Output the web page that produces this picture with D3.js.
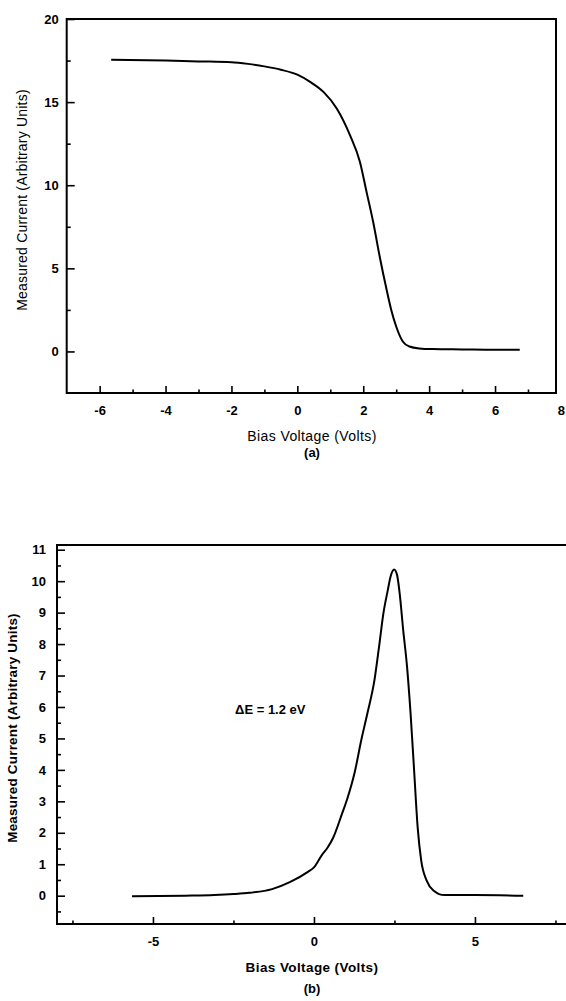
<!DOCTYPE html>
<html>
<head>
<meta charset="utf-8">
<script src="https://cdn.jsdelivr.net/npm/d3@7"></script>
<style>
  html, body { margin: 0; padding: 0; background: #fff; }
  svg { display: block; }
  text { font-family: "Liberation Sans", Arial, Helvetica, sans-serif; fill: #000; }
</style>
</head>
<body>
<svg id="chart" width="566" height="1001"></svg>
<script>
// ---------- Data: panel (a) ----------
const biasA = [-5.65, -4, -3, -2, -1.5, -1, -0.5, 0, 0.4, 0.8, 1.2, 1.6, 1.9, 2.1, 2.3, 2.5, 2.7, 2.85, 3.0, 3.2, 3.4, 3.7, 4.1, 5, 6, 6.75];
const currentA = [17.55, 17.5, 17.45, 17.4, 17.3, 17.15, 16.95, 16.65, 16.2, 15.6, 14.6, 13.0, 11.4, 9.6, 7.8, 5.7, 3.8, 2.5, 1.5, 0.6, 0.3, 0.18, 0.14, 0.12, 0.1, 0.1];
const xMajorA = [-6, -4, -2, 0, 2, 4, 6, 8];
const xMinorA = [-5, -3, -1, 1, 3, 5, 7];
const yMajorA = [0, 5, 10, 15, 20];
const yMinorA = [2.5, 7.5, 12.5, 17.5];

// ---------- Data: panel (b) ----------
const biasB = [-5.65, -4, -3.1, -2.5, -2.0, -1.3, -0.75, -0.2, 0.0, 0.25, 0.43, 0.6, 0.87, 1.04, 1.26, 1.47, 1.66, 1.88, 2.02, 2.16, 2.29, 2.38, 2.49, 2.58, 2.66, 2.77, 2.89, 3.0, 3.11, 3.22, 3.33, 3.5, 3.72, 4.05, 5, 6.5];
const currentB = [-0.02, 0.0, 0.02, 0.05, 0.09, 0.21, 0.43, 0.75, 0.9, 1.3, 1.54, 1.85, 2.6, 3.1, 3.9, 4.95, 5.8, 6.86, 7.9, 9.0, 9.7, 10.15, 10.37, 10.2, 9.63, 8.46, 7.29, 5.8, 3.99, 2.18, 1.12, 0.48, 0.16, 0.02, 0.02, 0.0];
const xMajorB = [-5, 0, 5];
const xMinorB = [-7.5, -2.5, 2.5, 7.5];
const yMajorB = [0, 1, 2, 3, 4, 5, 6, 7, 8, 9, 10, 11];
const yMinorB = [-0.5, 0.5, 1.5, 2.5, 3.5, 4.5, 5.5, 6.5, 7.5, 8.5, 9.5, 10.5];

const annotationB = "\u0394E = 1.2 eV";

const svg = d3.select("#chart");
const fmt = d => String(d);   // plain hyphen-minus like the original

function drawPanel(cfg) {
  const g = svg.append("g");
  const x = d3.scaleLinear().domain(cfg.xDomain).range(cfg.xRange);
  const y = d3.scaleLinear().domain(cfg.yDomain).range(cfg.yRange);
  const left = cfg.xRange[0], right = cfg.xRange[1];
  const top = cfg.yRange[1], bottom = cfg.yRange[0];

  const xAxisMaj = d3.axisBottom(x).tickValues(cfg.xMajor).tickSize(-cfg.majX).tickPadding(cfg.majX + 6).tickFormat(fmt);
  const xAxisMin = d3.axisBottom(x).tickValues(cfg.xMinor).tickSize(-cfg.majX / 2).tickFormat("");
  const yAxisMaj = d3.axisLeft(y).tickValues(cfg.yMajor).tickSize(-cfg.majY).tickPadding(cfg.majY + cfg.yPad).tickFormat(fmt);
  const yAxisMin = d3.axisLeft(y).tickValues(cfg.yMinor).tickSize(-cfg.majY / 2).tickFormat("");

  const axes = [
    g.append("g").attr("transform", `translate(0,${bottom})`).call(xAxisMaj),
    g.append("g").attr("transform", `translate(0,${bottom})`).call(xAxisMin),
    g.append("g").attr("transform", `translate(${left},0)`).call(yAxisMaj),
    g.append("g").attr("transform", `translate(${left},0)`).call(yAxisMin)
  ];
  axes.forEach(a => {
    a.select(".domain").remove();
    a.selectAll(".tick line").attr("stroke", "#000").attr("stroke-width", 1.6);
    a.selectAll(".tick text").style("font-family", '"Liberation Sans", Arial, sans-serif')
      .style("font-size", "13px").style("font-weight", "bold").attr("fill", "#000");
  });
  axes[0].selectAll(".tick").filter(d => x(d) > right - 1).select("line").remove();
  axes[1].selectAll(".tick").filter(d => x(d) > right - 1).select("line").remove();

  // frame
  g.append("path")
    .attr("d", `M${left},${top}H${right}V${bottom}H${left}Z`)
    .attr("fill", "none").attr("stroke", "#000").attr("stroke-width", 2);

  // curve
  const pts = cfg.xs.map((d, i) => [d, cfg.ys[i]]);
  g.append("path")
    .datum(pts)
    .attr("fill", "none").attr("stroke", "#000").attr("stroke-width", 2)
    .attr("stroke-linejoin", "round")
    .attr("d", d3.line().x(d => x(d[0])).y(d => y(d[1])).curve(d3.curveMonotoneX));

  // axis titles
  g.append("text")
    .attr("x", cfg.xTitlePos[0]).attr("y", cfg.xTitlePos[1])
    .attr("text-anchor", "middle")
    .style("font-size", cfg.titleSize).style("font-weight", cfg.titleWeight)
    .style("letter-spacing", "0.4px")
    .text("Bias Voltage (Volts)");
  g.append("text")
    .attr("transform", `translate(${cfg.yTitlePos[0]},${cfg.yTitlePos[1]}) rotate(-90)`)
    .attr("text-anchor", "middle")
    .style("font-size", cfg.titleSize).style("font-weight", cfg.titleWeight)
    .style("letter-spacing", "0.2px")
    .text("Measured Current (Arbitrary Units)");
  g.append("text")
    .attr("x", cfg.capPos[0]).attr("y", cfg.capPos[1])
    .attr("text-anchor", "middle")
    .style("font-size", "13px").style("font-weight", "bold")
    .text(cfg.caption);
  return { g, x, y };
}

drawPanel({
  xDomain: [-7, 7.85], xRange: [66.7, 556],
  yDomain: [-2.5, 20], yRange: [393, 19],
  xMajor: xMajorA, xMinor: xMinorA, yMajor: yMajorA, yMinor: yMinorA,
  majX: 7, majY: 8, yPad: 0,
  xs: biasA, ys: currentA,
  xTitlePos: [312, 441], yTitlePos: [27, 200], capPos: [312, 457],
  titleSize: "14px", titleWeight: "normal",
  caption: "(a)"
});

const pb = drawPanel({
  xDomain: [-7.98, 8.2], xRange: [57, 578],
  yDomain: [-0.9, 11.15], yRange: [924, 545],
  xMajor: xMajorB, xMinor: xMinorB, yMajor: yMajorB, yMinor: yMinorB,
  majX: 7, majY: 8, yPad: 3,
  xs: biasB, ys: currentB,
  xTitlePos: [312, 972], yTitlePos: [17, 728], capPos: [312, 993],
  titleSize: "13.5px", titleWeight: "bold",
  caption: "(b)"
});

pb.g.append("text")
  .attr("x", pb.x(-2.45)).attr("y", pb.y(5.93) + 5)
  .style("font-size", "13px").style("font-weight", "bold")
  .text(annotationB);
</script>
</body>
</html>
